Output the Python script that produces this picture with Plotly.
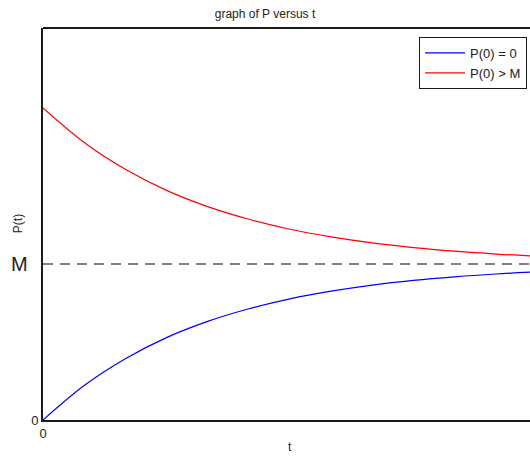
import plotly.graph_objects as go

# Sample times and population values (M = 10)
t_vals = [0, 0.25, 0.5, 0.75, 1.0, 1.25, 1.5, 1.75, 2.0, 2.25, 2.5, 2.75, 3.0]
p_from_zero = [0, 2.21, 3.93, 5.28, 6.32, 7.13, 7.77, 8.26, 8.65, 8.95, 9.18, 9.36, 9.50]
p_above_m = [20, 17.79, 16.07, 14.72, 13.68, 12.87, 12.23, 11.74, 11.35, 11.05, 10.82, 10.64, 10.50]
M_LEVEL = 10
y_ticks = [0]
y_tick_text = ["0"]
x_ticks = [0]
x_tick_text = ["0"]

FONT = "Liberation Sans, Arial, sans-serif"

fig = go.Figure()

# Equilibrium level P = M
fig.add_trace(go.Scatter(
    x=[t_vals[0], t_vals[-1]], y=[M_LEVEL, M_LEVEL], mode="lines",
    line=dict(color="#555555", width=1.5, dash="10px,7px"),
    showlegend=False, hoverinfo="skip",
))
fig.add_trace(go.Scatter(
    x=t_vals, y=p_from_zero, mode="lines", name="P(0) = 0",
    line=dict(color="#0000ff", width=1.2, shape="spline"),
))
fig.add_trace(go.Scatter(
    x=t_vals, y=p_above_m, mode="lines", name="P(0) > M",
    line=dict(color="#ff0000", width=1.2, shape="spline"),
))

# Top border of the plotting box
fig.add_shape(type="line", xref="paper", yref="paper", x0=0, x1=1, y0=1, y1=1,
              line=dict(color="#1a1a1a", width=2))

# Large "M" label marking the equilibrium level on the y axis
fig.add_annotation(text="M", xref="paper", yref="y", x=-0.027, y=M_LEVEL,
                   xanchor="right", yanchor="middle", showarrow=False,
                   font=dict(size=20, color="#222222", family=FONT))

# Axis titles
fig.add_annotation(text="t", xref="paper", yref="paper", x=0.507, y=-0.07,
                   xanchor="center", yanchor="middle", showarrow=False,
                   font=dict(size=12, color="#222222", family=FONT))
fig.add_annotation(text="P(t)", xref="paper", yref="paper", x=-0.051, y=0.5,
                   xanchor="center", yanchor="middle", showarrow=False, textangle=-90,
                   font=dict(size=12, color="#222222", family=FONT))

fig.update_layout(
    width=530, height=456,
    margin=dict(l=43, r=0, t=28, b=36),
    paper_bgcolor="white", plot_bgcolor="white",
    font=dict(family=FONT, color="#222222", size=12),
    title=dict(text="graph of P versus t", x=0.5, xref="container", xanchor="center",
               y=0.969, yref="container", yanchor="middle",
               font=dict(size=12, color="#222222", family=FONT)),
    xaxis=dict(range=[0, 3.0 * 487 / 494], tickvals=x_ticks, ticktext=x_tick_text,
               showgrid=False, zeroline=False, showline=True, linecolor="#1a1a1a",
               linewidth=2, ticks="", tickfont=dict(size=13)),
    yaxis=dict(range=[0, 25.13], tickvals=y_ticks, ticktext=y_tick_text,
               showgrid=False, zeroline=False, showline=True, linecolor="#1a1a1a",
               linewidth=2, ticks="", tickfont=dict(size=13)),
    legend=dict(x=0.994, y=0.977, xanchor="right", yanchor="top",
                bordercolor="#1a1a1a", borderwidth=1, bgcolor="white",
                font=dict(size=13, color="#222222", family=FONT),
                tracegroupgap=0, itemwidth=40),
    showlegend=True,
)

fig.write_html("out.html")
